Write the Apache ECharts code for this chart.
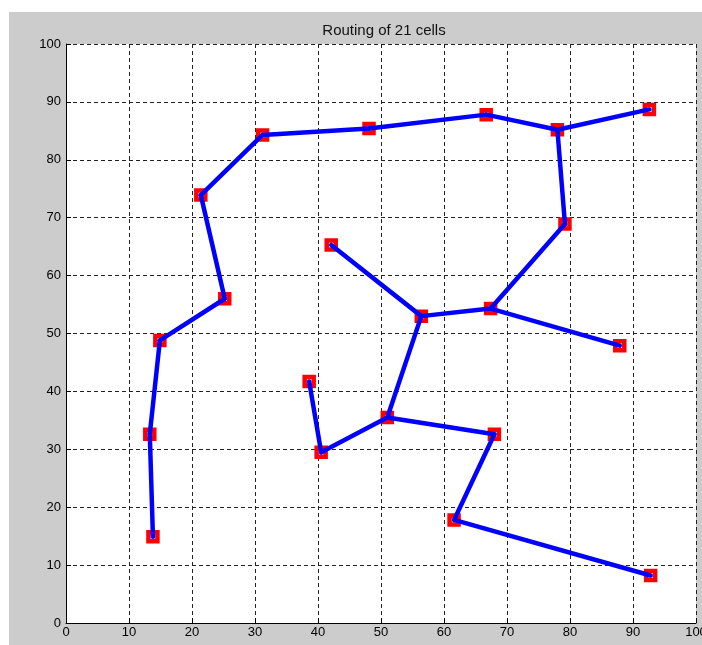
<!DOCTYPE html>
<html><head><meta charset="utf-8">
<script src="https://cdn.jsdelivr.net/npm/echarts@6/dist/echarts.min.js"></script>
<style>
html,body{margin:0;padding:0;background:#fff;}
#bg{position:absolute;left:9px;top:12px;width:693px;height:633px;background:#cccccc;}
#c{position:absolute;left:0;top:0;width:702px;height:645px;}
</style>
</head><body><div id="bg"></div><div id="c"></div><script>
// cell coordinates
const cellX = [13.8, 13.3, 14.9, 25.2, 21.4, 31.2, 48.1, 66.7, 78.0, 92.6, 79.2, 67.4, 87.9, 56.4, 42.1, 51.0, 68.0, 61.6, 92.8, 40.5, 38.6];
const cellY = [14.9, 32.6, 48.8, 56.0, 73.9, 84.3, 85.4, 87.8, 85.2, 88.7, 68.9, 54.3, 47.9, 53.0, 65.3, 35.5, 32.6, 17.8, 8.2, 29.5, 41.7];
// routing links between cells (indices)
const edges = [[0,1],[1,2],[2,3],[3,4],[4,5],[5,6],[6,7],[7,8],[8,9],[8,10],[10,11],[11,12],[11,13],[13,14],[13,15],[15,16],[16,17],[17,18],[15,19],[19,20]];
const titleText = 'Routing of 21 cells';

const chart = echarts.init(document.getElementById('c'), null, {renderer:'canvas'});
const font = 'Liberation Sans, Arial, sans-serif';
const series = edges.map(e => ({
  type:'line', silent:true, animation:false, showSymbol:false, symbol:'none', z:3,
  lineStyle:{color:'#0000ff', width:4.5, cap:'round', join:'round'},
  data:[[cellX[e[0]], cellY[e[0]]],[cellX[e[1]], cellY[e[1]]]]
}));
series.unshift({
  type:'scatter', silent:true, animation:false, z:2,
  symbol:'rect', symbolSize:9,
  itemStyle:{color:'#ffffff', borderColor:'#ff0000', borderWidth:4.5, opacity:1},
  data: cellX.map((x,i)=>[x, cellY[i]])
});
const axisCommon = {
  type:'value', min:0, max:100, interval:10,
  axisLine:{show:true, onZero:false, lineStyle:{color:'#000', width:1}},
  axisTick:{show:true, inside:true, length:5, lineStyle:{color:'#000'}},
  splitLine:{show:true, lineStyle:{color:'#222', width:1, type:[4,3]}},
  axisLabel:{color:'#000', fontFamily:font, fontSize:13}
};
chart.setOption({
  backgroundColor:'transparent',
  animation:false,
  title:{text:titleText, left:379, textAlign:'center', top:18,
    textStyle:{fontFamily:font, fontSize:15, fontWeight:'normal', color:'#111'}},
  grid:{left:66, top:44, width:630, height:579, show:true, backgroundColor:'#ffffff', borderWidth:0,
    containLabel:false, outerBoundsMode:'none'},
  xAxis:Object.assign({}, axisCommon, {axisLabel:Object.assign({}, axisCommon.axisLabel, {margin:3})}),
  yAxis:Object.assign({}, axisCommon, {axisLabel:Object.assign({}, axisCommon.axisLabel, {margin:5})}),
  series:series
});
</script></body></html>
